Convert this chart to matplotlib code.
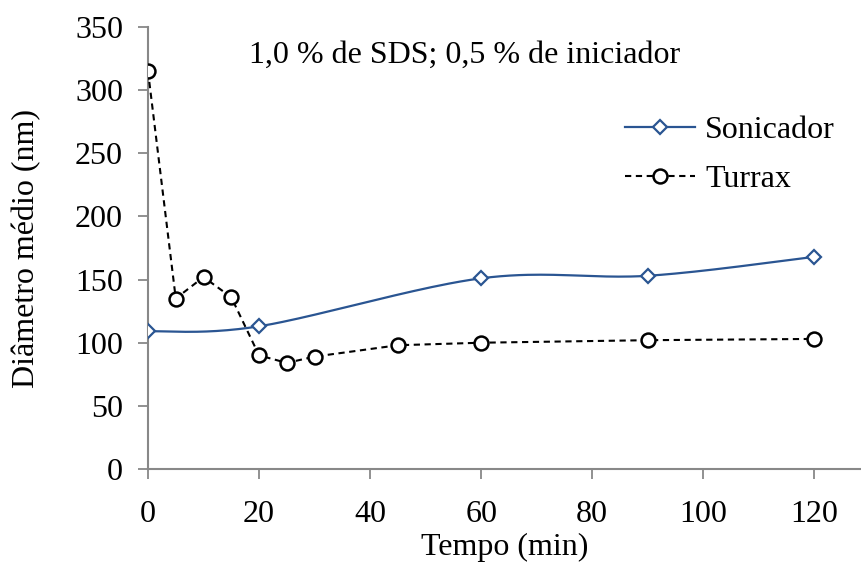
import matplotlib
matplotlib.use("Agg")
import matplotlib.pyplot as plt
import numpy as np

plt.rcParams['font.family'] = ['Liberation Serif', 'DejaVu Serif']

tempo_son = [0, 20, 60, 90, 120]
diam_son = [109, 113, 151, 153, 168]

tempo_tur = [0, 5, 10, 15, 20, 25, 30, 45, 60, 90, 120]
diam_tur = [315, 135, 152, 136, 90, 84, 89, 98, 100, 102, 103]

x_ticks = [0, 20, 40, 60, 80, 100, 120]
y_ticks = [0, 50, 100, 150, 200, 250, 300, 350]


def smooth(x, y, n=40):
    # Excel-like smoothed line (Catmull-Rom bezier through the points)
    x = np.asarray(x, float)
    y = np.asarray(y, float)
    px = np.concatenate([[x[0]], x, [x[-1]]])
    py = np.concatenate([[y[0]], y, [y[-1]]])
    xs, ys = [], []
    t = np.linspace(0, 1, n)
    for i in range(1, len(px) - 2):
        p0 = np.array([px[i], py[i]])
        p3 = np.array([px[i + 1], py[i + 1]])
        p1 = p0 + (np.array([px[i + 1], py[i + 1]]) - np.array([px[i - 1], py[i - 1]])) / 6
        p2 = p3 - (np.array([px[i + 2], py[i + 2]]) - np.array([px[i], py[i]])) / 6
        b = ((1 - t) ** 3)[:, None] * p0 + (3 * (1 - t) ** 2 * t)[:, None] * p1 \
            + (3 * (1 - t) * t ** 2)[:, None] * p2 + (t ** 3)[:, None] * p3
        xs.extend(b[:, 0])
        ys.extend(b[:, 1])
    return xs, ys


blue = '#2A5592'
fs = 23
fig = plt.figure(figsize=(8.62, 5.68), dpi=100)
ax = fig.add_axes([148 / 862, 99 / 568, 714 / 862, 442 / 568])

sx, sy = smooth(tempo_son, diam_son)
ax.plot(sx, sy, '-', color=blue, lw=1.6, zorder=2)
ax.plot(tempo_son, diam_son, 'D', color=blue, mfc='white', mec=blue, mew=1.6, ms=7, zorder=3)
ax.plot([], [], '-D', color=blue, mfc='white', mec=blue, mew=1.6, ms=7, lw=1.6, label='Sonicador')

ax.plot(tempo_tur, diam_tur, '--o', color='black', mfc='white', mec='black', mew=1.8, ms=10,
        lw=1.5, dashes=(3, 2.2), label='Turrax', zorder=3)

ax.set_xlim(0, 128.6)
ax.set_ylim(0, 350)
ax.set_xticks(x_ticks)
ax.set_yticks(y_ticks)
for s in ['top', 'right']:
    ax.spines[s].set_visible(False)
for s in ['left', 'bottom']:
    ax.spines[s].set_color('#888888')
    ax.spines[s].set_linewidth(1.5)
ax.tick_params(axis='both', colors='#888888', width=1.3, length=7, labelsize=fs,
               labelcolor='black')
ax.tick_params(axis='y', pad=11)
ax.tick_params(axis='x', pad=15)
ax.set_xlabel('Tempo (min)', fontsize=fs, labelpad=3)
ax.set_ylabel('Diâmetro médio (nm)', fontsize=fs, labelpad=24)

ax.text(0.444, 0.935, '1,0 % de SDS; 0,5 % de iniciador', transform=ax.transAxes,
        ha='center', va='center', fontsize=fs)

ax.legend(loc='upper left', bbox_to_anchor=(0.628, 0.865), frameon=False, fontsize=fs,
          handlelength=2.2, handletextpad=0.3, labelspacing=0.62)

fig.savefig('out.png', dpi=100)
